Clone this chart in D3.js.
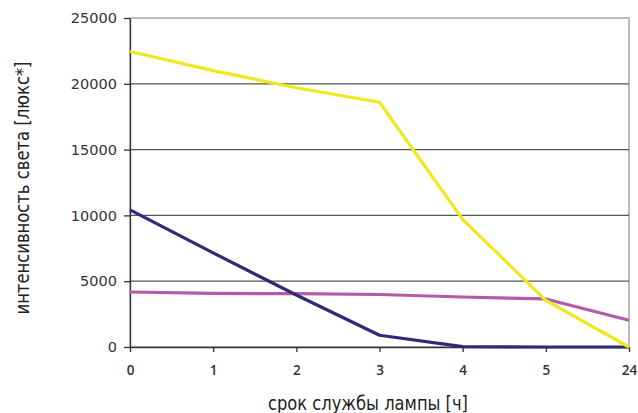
<!DOCTYPE html>
<html>
<head>
    <meta charset="utf-8">
    <script src="https://d3js.org/d3.v7.min.js"></script>
    <style>
        body { margin: 0; background: #fff; }
        svg { display: block; }
        .grid line { stroke: #555; stroke-width: 1.3px; }
        .axis path, .axis line { stroke: #333; stroke-width: 1.3px; }
        .axis-y text { font-family: "DejaVu Sans", Verdana, sans-serif; font-size: 14.5px; fill: #333; }
        .axis-x text { font-family: "Open Sans", "DejaVu Sans", sans-serif; font-size: 13.5px; font-weight: 600; fill: #333; }
        .line { fill: none; stroke-width: 3.2px; stroke-linejoin: round; }
        .title { font-family: "Liberation Sans Narrow", "DejaVu Sans Condensed", "Open Sans", sans-serif; font-size: 19px; fill: #222; }
    </style>
</head>
<body>
<svg width="638" height="413"></svg>
<script>
    const hours = ["0", "1", "2", "3", "4", "5", "24"];
    const yTicks = [0, 5000, 10000, 15000, 20000, 25000];
    const yellowSeries = [22450, 21000, 19700, 18600, 9700, 3550, 0];
    const navySeries = [10420, 7150, 3950, 890, 30, 0, 0];
    const purpleSeries = [4180, 4070, 4050, 3990, 3800, 3650, 2030];

    const series = [
        { values: purpleSeries, color: "#b45aa9" },
        { values: navySeries, color: "#2d2a7a" },
        { values: yellowSeries, color: "#eee91c" }
    ];

    const svg = d3.select("svg"),
          margin = { top: 18, right: 9, bottom: 66, left: 130 },
          width = +svg.attr("width") - margin.left - margin.right,
          height = +svg.attr("height") - margin.top - margin.bottom;

    const g = svg.append("g").attr("transform", `translate(${margin.left},${margin.top})`);

    const x = d3.scalePoint().domain(hours).range([0, width]);
    const y = d3.scaleLinear().domain([0, 25000]).range([height, 0]);

    // plot frame (top and right are light grey)
    g.append("rect")
     .attr("width", width)
     .attr("height", height)
     .attr("fill", "none")
     .attr("stroke", "#999")
     .attr("stroke-width", 1.3);

    // gridlines
    g.append("g")
     .attr("class", "grid")
     .selectAll("line")
     .data(yTicks.filter(d => d > 0 && d < 25000))
     .enter()
     .append("line")
     .attr("x1", 0)
     .attr("x2", width)
     .attr("y1", d => y(d))
     .attr("y2", d => y(d));

    // axes
    g.append("g")
     .attr("class", "axis axis-x")
     .attr("transform", `translate(0,${height})`)
     .call(d3.axisBottom(x).tickSize(5).tickSizeOuter(0).tickPadding(13));

    g.append("g")
     .attr("class", "axis axis-y")
     .call(d3.axisLeft(y).tickValues(yTicks).tickSize(6).tickSizeOuter(0).tickPadding(7).tickFormat(d3.format("d")));

    // lines
    const line = d3.line()
                   .x((d, i) => x(hours[i]))
                   .y(d => y(d));

    g.selectAll(".line")
     .data(series)
     .enter()
     .append("path")
     .attr("class", "line")
     .attr("stroke", d => d.color)
     .attr("d", d => line(d.values));

    // axis titles
    svg.append("text")
       .attr("class", "title")
       .attr("x", 368)
       .attr("y", 410)
       .attr("text-anchor", "middle")
       .attr("textLength", 200)
       .attr("lengthAdjust", "spacingAndGlyphs")
       .text("срок службы лампы [ч]");

    svg.append("text")
       .attr("class", "title")
       .attr("transform", "translate(29,188) rotate(-90)")
       .attr("text-anchor", "middle")
       .attr("textLength", 253)
       .attr("lengthAdjust", "spacingAndGlyphs")
       .text("интенсивность света [люкс*]");
</script>
</body>
</html>
